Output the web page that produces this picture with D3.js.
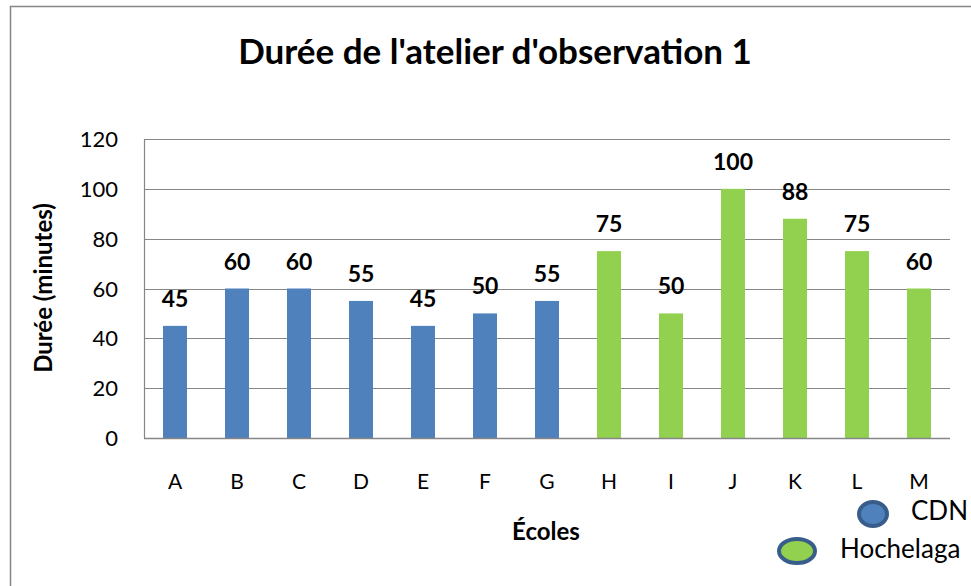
<!DOCTYPE html>
<html>
<head>
<meta charset="utf-8">
<script src="https://cdn.jsdelivr.net/npm/d3@7"></script>
<style>
  body { margin: 0; background: #fff; }
  svg { font-family: Lato, "Open Sans", sans-serif; }
</style>
</head>
<body>
<svg width="971" height="586"></svg>
<script>
// Chart data.
const ecoles = ["A", "B", "C", "D", "E", "F", "G", "H", "I", "J", "K", "L", "M"];
const durees = [45, 60, 60, 55, 45, 50, 55, 75, 50, 100, 88, 75, 60];
const groupes = ["CDN", "CDN", "CDN", "CDN", "CDN", "CDN", "CDN",
  "Hochelaga", "Hochelaga", "Hochelaga", "Hochelaga", "Hochelaga", "Hochelaga"];
const legende = ["CDN", "Hochelaga"];
const yTicks = [0, 20, 40, 60, 80, 100, 120];

const colors = { CDN: "#4F81BD", Hochelaga: "#92D050" };
const gridColor = "#868686";

const svg = d3.select("svg");
const plot = { left: 144, right: 950, top: 139, bottom: 438 };

// Outer chart frame (runs past the window edges).
svg.append("rect")
  .attr("x", 10.5).attr("y", 6.5)
  .attr("width", 1000).attr("height", 700)
  .attr("fill", "none").attr("stroke", gridColor).attr("stroke-width", 1.5);

const x = d3.scaleBand().domain(ecoles).range([plot.left, plot.right]).paddingInner(0).paddingOuter(0);
const y = d3.scaleLinear().domain([0, 120]).range([plot.bottom, plot.top]);

// Gridlines.
svg.append("g")
  .selectAll("line")
  .data(yTicks)
  .join("line")
  .attr("x1", plot.left).attr("x2", plot.right)
  .attr("y1", (d) => Math.round(y(d)) + 0.5)
  .attr("y2", (d) => Math.round(y(d)) + 0.5)
  .attr("stroke", gridColor).attr("stroke-width", 1.2);

// Left axis line.
svg.append("line")
  .attr("x1", plot.left + 0.5).attr("x2", plot.left + 0.5)
  .attr("y1", plot.top).attr("y2", plot.bottom)
  .attr("stroke", gridColor).attr("stroke-width", 1.2);

// Y tick labels.
svg.append("g")
  .selectAll("text")
  .data(yTicks)
  .join("text")
  .attr("x", 118)
  .attr("y", (d) => y(d) + 8)
  .attr("text-anchor", "end")
  .attr("font-size", 22)
  .attr("fill", "#000")
  .text((d) => d);

// Bars.
const barW = 24;
svg.append("g")
  .selectAll("rect")
  .data(ecoles)
  .join("rect")
  .attr("x", (d) => x(d) + x.bandwidth() / 2 - barW / 2)
  .attr("y", (d, i) => y(durees[i]))
  .attr("width", barW)
  .attr("height", (d, i) => y(0) - y(durees[i]))
  .attr("fill", (d, i) => colors[groupes[i]]);

// Bottom axis line drawn over bars.
svg.append("line")
  .attr("x1", plot.left).attr("x2", plot.right)
  .attr("y1", plot.bottom + 0.5).attr("y2", plot.bottom + 0.5)
  .attr("stroke", gridColor).attr("stroke-width", 1.5);

// Value labels.
svg.append("g")
  .selectAll("text")
  .data(ecoles)
  .join("text")
  .attr("x", (d) => x(d) + x.bandwidth() / 2)
  .attr("y", (d, i) => y(durees[i]) - 19)
  .attr("text-anchor", "middle")
  .attr("font-size", 23)
  .attr("font-weight", "bold")
  .text((d, i) => durees[i]);

// Category labels.
svg.append("g")
  .selectAll("text")
  .data(ecoles)
  .join("text")
  .attr("x", (d) => x(d) + x.bandwidth() / 2)
  .attr("y", 489)
  .attr("text-anchor", "middle")
  .attr("font-size", 21)
  .text((d) => d);

// Title.
svg.append("text")
  .attr("x", 495).attr("y", 64)
  .attr("text-anchor", "middle")
  .attr("font-size", 35).attr("font-weight", "bold")
  .text("Durée de l'atelier d'observation 1");

// Axis titles.
svg.append("text")
  .attr("transform", "translate(52,288) rotate(-90)")
  .attr("text-anchor", "middle")
  .attr("font-size", 24).attr("font-weight", "bold")
  .text("Durée (minutes)");

svg.append("text")
  .attr("x", 546).attr("y", 540)
  .attr("text-anchor", "middle")
  .attr("font-size", 24).attr("font-weight", "bold")
  .text("Écoles");

// Legend.
const legendPos = [{ cx: 873, cy: 514, tx: 911, ty: 520 }, { cx: 797, cy: 551, tx: 840, ty: 558 }];
const lg = svg.append("g")
  .selectAll("g")
  .data(legende)
  .join("g");
lg.append("ellipse")
  .attr("cx", (d, i) => legendPos[i].cx)
  .attr("cy", (d, i) => legendPos[i].cy)
  .attr("rx", (d, i) => i === 0 ? 14 : 18)
  .attr("ry", 12)
  .attr("fill", (d) => colors[d])
  .attr("stroke", "#385D8A").attr("stroke-width", 4);
lg.append("text")
  .attr("x", (d, i) => legendPos[i].tx)
  .attr("y", (d, i) => legendPos[i].ty)
  .attr("font-size", 26)
  .text((d) => d);
</script>
</body>
</html>
